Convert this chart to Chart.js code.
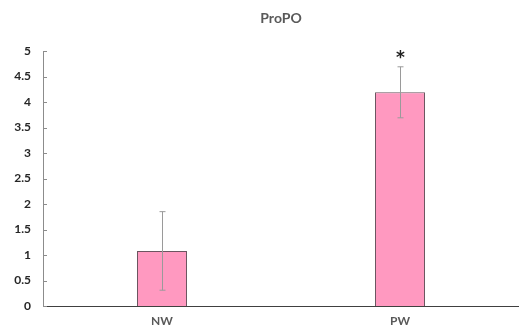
<!DOCTYPE html>
<html lang="en">
<head>
<meta charset="UTF-8">
<title>ProPO</title>
<script src="https://cdn.jsdelivr.net/npm/chart.js"></script>
<style>
  html, body { margin: 0; padding: 0; background: #fff; }
  #wrap { width: 519px; height: 331px; }
</style>
</head>
<body>
<div id="wrap"><canvas id="chart"></canvas></div>
<script>
// data
const groups = ["NW", "PW"];
const means = [1.08, 4.19];
const errors = [0.77, 0.5];
const marks = ["", "*"];
const yTicks = [0, 0.5, 1, 1.5, 2, 2.5, 3, 3.5, 4, 4.5, 5];

// error bars, significance marks and inner tick marks
const extras = {
  id: "extras",
  afterDatasetsDraw(chart) {
    const ctx = chart.ctx;
    const x = chart.scales.x, y = chart.scales.y;
    ctx.save();
    // inner ticks on the y axis
    ctx.strokeStyle = "#8c8c8c";
    ctx.lineWidth = 1;
    yTicks.forEach(v => {
      const py = Math.round(y.getPixelForValue(v)) + 0.5;
      ctx.beginPath();
      ctx.moveTo(x.left, py);
      ctx.lineTo(x.left + 4, py);
      ctx.stroke();
    });
    means.forEach((m, i) => {
      const px = Math.round(x.getPixelForValue(i)) + 0.5;
      const top = y.getPixelForValue(m + errors[i]);
      const bot = y.getPixelForValue(m - errors[i]);
      ctx.strokeStyle = "#9a9a9a";
      ctx.beginPath();
      ctx.moveTo(px, top); ctx.lineTo(px, bot);
      ctx.moveTo(px - 3, top); ctx.lineTo(px + 3, top);
      ctx.moveTo(px - 3, bot); ctx.lineTo(px + 3, bot);
      ctx.stroke();
      if (marks[i]) {
        ctx.fillStyle = "#222";
        ctx.font = "bold 17px 'DejaVu Sans'";
        ctx.textAlign = "center";
        ctx.textBaseline = "middle";
        ctx.fillText(marks[i], px, top - 8);
      }
    });
    ctx.restore();
  }
};

new Chart(document.getElementById("chart"), {
  type: "bar",
  data: {
    labels: groups,
    datasets: [{
      data: means,
      backgroundColor: "#ff99c0",
      borderColor: "#6b5560",
      borderWidth: 1,
      categoryPercentage: 1,
      barPercentage: 0.21
    }]
  },
  options: {
    responsive: true,
    maintainAspectRatio: false,
    animation: false,
    layout: { padding: { left: 0, right: 0, top: 0, bottom: 0 } },
    plugins: {
      legend: { display: false },
      tooltip: { enabled: false },
      title: {
        display: true,
        fullSize: false,
        text: "ProPO",
        color: "#595959",
        font: { family: "Lato", size: 14, weight: "bold" },
        padding: { top: 10, bottom: 24.2 }
      }
    },
    scales: {
      x: {
        grid: { display: false, drawTicks: false },
        border: { color: "#404040", width: 1 },
        ticks: {
          color: "#595959",
          padding: 8,
          font: { family: "Lato", size: 12, weight: "bold" }
        },
        afterFit: s => { s.height = 25; }
      },
      y: {
        min: 0,
        max: 5,
        afterBuildTicks: s => { s.ticks = yTicks.map(v => ({ value: v })); },
        grid: { display: false, drawTicks: false },
        border: { color: "#8c8c8c", width: 1 },
        ticks: {
          color: "#262626",
          padding: 12,
          callback: v => String(v),
          font: { family: "Lato", size: 12, weight: "bold" }
        },
        afterFit: s => { s.width = 43; }
      }
    }
  },
  plugins: [extras]
});
</script>
</body>
</html>
